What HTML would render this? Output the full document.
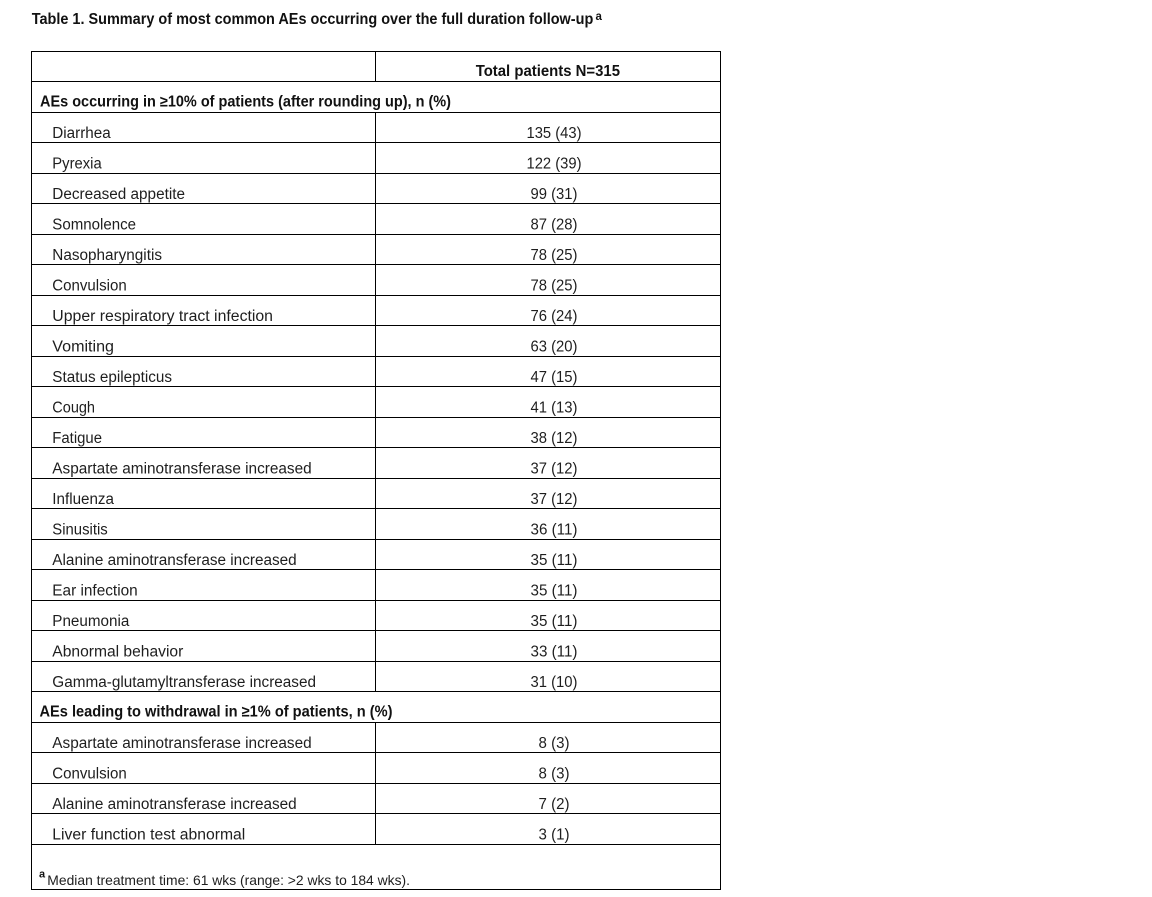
<!DOCTYPE html>
<html>
<head>
<meta charset="utf-8">
<style>
  html, body { margin: 0; padding: 0; background: #ffffff; }
  body { width: 1152px; height: 897px; overflow: hidden; }
  svg { display: block; }
  text { font-family: "Liberation Sans", Arial, sans-serif; fill: #1e1e1e; }
  .b { font-weight: bold; fill: #111; }
</style>
</head>
<body>
<svg width="1152" height="897" viewBox="0 0 1152 897" xmlns="http://www.w3.org/2000/svg">
  <rect x="0" y="0" width="1152" height="897" fill="#ffffff"/>

  <!-- Title -->
  <text class="b" x="31.7" y="24" font-size="15.3" textLength="561.6" lengthAdjust="spacingAndGlyphs">Table 1. Summary of most common AEs occurring over the full duration follow-up</text>
  <text class="b" x="595.5" y="20" font-size="11.5">a</text>

  <g shape-rendering="crispEdges" fill="#000">
    <!-- outer border -->
    <rect x="31" y="51" width="690" height="1"/>
    <rect x="31" y="889" width="690" height="1"/>
    <rect x="31" y="51" width="1" height="839"/>
    <rect x="720" y="51" width="1" height="839"/>
    <!-- horizontal row lines -->
    <rect x="31" y="81" width="690" height="1"/>
    <rect x="31" y="112" width="690" height="1"/>
    <rect x="31" y="142" width="690" height="1"/>
    <rect x="31" y="173" width="690" height="1"/>
    <rect x="31" y="203" width="690" height="1"/>
    <rect x="31" y="234" width="690" height="1"/>
    <rect x="31" y="264" width="690" height="1"/>
    <rect x="31" y="295" width="690" height="1"/>
    <rect x="31" y="325" width="690" height="1"/>
    <rect x="31" y="356" width="690" height="1"/>
    <rect x="31" y="386" width="690" height="1"/>
    <rect x="31" y="417" width="690" height="1"/>
    <rect x="31" y="447" width="690" height="1"/>
    <rect x="31" y="478" width="690" height="1"/>
    <rect x="31" y="508" width="690" height="1"/>
    <rect x="31" y="539" width="690" height="1"/>
    <rect x="31" y="569" width="690" height="1"/>
    <rect x="31" y="600" width="690" height="1"/>
    <rect x="31" y="630" width="690" height="1"/>
    <rect x="31" y="661" width="690" height="1"/>
    <rect x="31" y="691" width="690" height="1"/>
    <rect x="31" y="722" width="690" height="1"/>
    <rect x="31" y="752" width="690" height="1"/>
    <rect x="31" y="783" width="690" height="1"/>
    <rect x="31" y="813" width="690" height="1"/>
    <rect x="31" y="844" width="690" height="1"/>
    <!-- column divider segments -->
    <rect x="375" y="51" width="1" height="31"/>
    <rect x="375" y="112" width="1" height="580"/>
    <rect x="375" y="722" width="1" height="123"/>
  </g>

  <!-- Header -->
  <text class="b" x="475.7" y="76" font-size="15.3" textLength="144.3" lengthAdjust="spacingAndGlyphs">Total patients N=315</text>

  <!-- Group 1 header -->
  <text class="b" x="40" y="106.5" font-size="15.3" textLength="411" lengthAdjust="spacingAndGlyphs">AEs occurring in ≥10% of patients (after rounding up), n (%)</text>

  <!-- Group 1 rows -->
  <g font-size="15.3">
    <text x="52.3" y="138" textLength="58.4" lengthAdjust="spacingAndGlyphs">Diarrhea</text>
    <text x="554" y="138" text-anchor="middle" textLength="55" lengthAdjust="spacingAndGlyphs">135 (43)</text>

    <text x="52.3" y="168.5" textLength="49.4" lengthAdjust="spacingAndGlyphs">Pyrexia</text>
    <text x="554" y="168.5" text-anchor="middle" textLength="55" lengthAdjust="spacingAndGlyphs">122 (39)</text>

    <text x="52.3" y="199" textLength="132.7" lengthAdjust="spacingAndGlyphs">Decreased appetite</text>
    <text x="554" y="199" text-anchor="middle" textLength="47" lengthAdjust="spacingAndGlyphs">99 (31)</text>

    <text x="52.3" y="229.5" textLength="83.7" lengthAdjust="spacingAndGlyphs">Somnolence</text>
    <text x="554" y="229.5" text-anchor="middle" textLength="47" lengthAdjust="spacingAndGlyphs">87 (28)</text>

    <text x="52.3" y="260" textLength="109.7" lengthAdjust="spacingAndGlyphs">Nasopharyngitis</text>
    <text x="554" y="260" text-anchor="middle" textLength="47" lengthAdjust="spacingAndGlyphs">78 (25)</text>

    <text x="52.3" y="290.5" textLength="74.4" lengthAdjust="spacingAndGlyphs">Convulsion</text>
    <text x="554" y="290.5" text-anchor="middle" textLength="47" lengthAdjust="spacingAndGlyphs">78 (25)</text>

    <text x="52.3" y="321" textLength="220.7" lengthAdjust="spacingAndGlyphs">Upper respiratory tract infection</text>
    <text x="554" y="321" text-anchor="middle" textLength="47" lengthAdjust="spacingAndGlyphs">76 (24)</text>

    <text x="52.3" y="351.5" textLength="61.7" lengthAdjust="spacingAndGlyphs">Vomiting</text>
    <text x="554" y="351.5" text-anchor="middle" textLength="47" lengthAdjust="spacingAndGlyphs">63 (20)</text>

    <text x="52.3" y="382" textLength="119.7" lengthAdjust="spacingAndGlyphs">Status epilepticus</text>
    <text x="554" y="382" text-anchor="middle" textLength="47" lengthAdjust="spacingAndGlyphs">47 (15)</text>

    <text x="52.3" y="412.5" textLength="42.7" lengthAdjust="spacingAndGlyphs">Cough</text>
    <text x="554" y="412.5" text-anchor="middle" textLength="47" lengthAdjust="spacingAndGlyphs">41 (13)</text>

    <text x="52.3" y="443" textLength="49.7" lengthAdjust="spacingAndGlyphs">Fatigue</text>
    <text x="554" y="443" text-anchor="middle" textLength="47" lengthAdjust="spacingAndGlyphs">38 (12)</text>

    <text x="52.3" y="473.5" textLength="259.4" lengthAdjust="spacingAndGlyphs">Aspartate aminotransferase increased</text>
    <text x="554" y="473.5" text-anchor="middle" textLength="47" lengthAdjust="spacingAndGlyphs">37 (12)</text>

    <text x="52.3" y="504" textLength="61.7" lengthAdjust="spacingAndGlyphs">Influenza</text>
    <text x="554" y="504" text-anchor="middle" textLength="47" lengthAdjust="spacingAndGlyphs">37 (12)</text>

    <text x="52.3" y="534.5" textLength="55.4" lengthAdjust="spacingAndGlyphs">Sinusitis</text>
    <text x="554" y="534.5" text-anchor="middle" textLength="47" lengthAdjust="spacingAndGlyphs">36 (11)</text>

    <text x="52.3" y="565" textLength="244.4" lengthAdjust="spacingAndGlyphs">Alanine aminotransferase increased</text>
    <text x="554" y="565" text-anchor="middle" textLength="47" lengthAdjust="spacingAndGlyphs">35 (11)</text>

    <text x="52.3" y="595.5" textLength="85.4" lengthAdjust="spacingAndGlyphs">Ear infection</text>
    <text x="554" y="595.5" text-anchor="middle" textLength="47" lengthAdjust="spacingAndGlyphs">35 (11)</text>

    <text x="52.3" y="626" textLength="77" lengthAdjust="spacingAndGlyphs">Pneumonia</text>
    <text x="554" y="626" text-anchor="middle" textLength="47" lengthAdjust="spacingAndGlyphs">35 (11)</text>

    <text x="52.3" y="656.5" textLength="131" lengthAdjust="spacingAndGlyphs">Abnormal behavior</text>
    <text x="554" y="656.5" text-anchor="middle" textLength="47" lengthAdjust="spacingAndGlyphs">33 (11)</text>

    <text x="52.3" y="687" textLength="263.7" lengthAdjust="spacingAndGlyphs">Gamma-glutamyltransferase increased</text>
    <text x="554" y="687" text-anchor="middle" textLength="47" lengthAdjust="spacingAndGlyphs">31 (10)</text>
  </g>

  <!-- Group 2 header -->
  <text class="b" x="39.5" y="716.5" font-size="15.3" textLength="353" lengthAdjust="spacingAndGlyphs">AEs leading to withdrawal in ≥1% of patients, n (%)</text>

  <!-- Group 2 rows -->
  <g font-size="15.3">
    <text x="52.3" y="748" textLength="259.4" lengthAdjust="spacingAndGlyphs">Aspartate aminotransferase increased</text>
    <text x="554" y="748" text-anchor="middle" textLength="31" lengthAdjust="spacingAndGlyphs">8 (3)</text>

    <text x="52.3" y="778.5" textLength="74.4" lengthAdjust="spacingAndGlyphs">Convulsion</text>
    <text x="554" y="778.5" text-anchor="middle" textLength="31" lengthAdjust="spacingAndGlyphs">8 (3)</text>

    <text x="52.3" y="809" textLength="244.4" lengthAdjust="spacingAndGlyphs">Alanine aminotransferase increased</text>
    <text x="554" y="809" text-anchor="middle" textLength="31" lengthAdjust="spacingAndGlyphs">7 (2)</text>

    <text x="52.3" y="839.5" textLength="193" lengthAdjust="spacingAndGlyphs">Liver function test abnormal</text>
    <text x="554" y="839.5" text-anchor="middle" textLength="31" lengthAdjust="spacingAndGlyphs">3 (1)</text>
  </g>

  <!-- Footnote -->
  <text class="b" x="39" y="877.5" font-size="11">a</text>
  <text x="47.3" y="885" font-size="14" textLength="362.7" lengthAdjust="spacingAndGlyphs">Median treatment time: 61 wks (range: &gt;2 wks to 184 wks).</text>
</svg>
</body>
</html>
